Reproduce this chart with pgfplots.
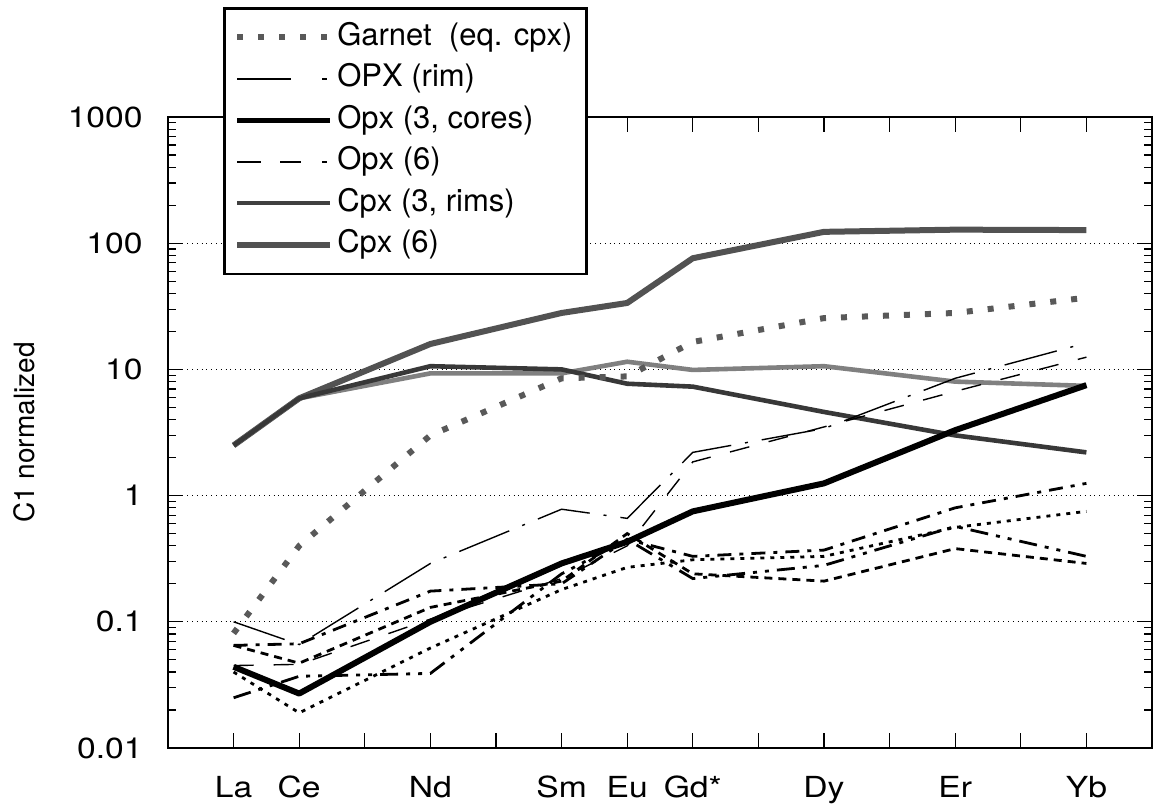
\documentclass[border=0pt]{standalone}
\usepackage{pgfplots}
\pgfplotsset{compat=1.18}
\usepackage{fontspec}
\setmainfont{TeX Gyre Heros}
\newfontfamily\tickfont{TeX Gyre Heros}[FakeStretch=1.16]

% x = atomic number (La=57 ... Yb=70)
\pgfplotstableread{
x y
57 2.5
58 5.9
60 15.9
62 28
63 33.6
64 76
66 123
68 128
70 127
}\cpxsix
\pgfplotstableread{
x y
57 2.5
58 5.9
60 9.3
62 9.3
63 11.5
64 9.9
66 10.6
68 8.0
70 7.4
}\cpxrims
\pgfplotstableread{
x y
57 2.5
58 5.9
60 10.6
62 10.0
63 7.7
64 7.3
66 4.6
68 3.0
70 2.2
}\cpxother
\pgfplotstableread{
x y
57 0.044
58 0.027
60 0.10
62 0.29
63 0.43
64 0.75
66 1.25
68 3.3
70 7.5
}\opxcores
\pgfplotstableread{
x y
57 0.081
58 0.40
60 3.0
62 8.5
63 8.8
64 16.5
66 25.5
68 28
70 37
}\garnet
\pgfplotstableread{
x y
57 0.10
58 0.066
60 0.29
62 0.78
63 0.66
64 2.2
66 3.4
68 8.5
70 16.2
}\opxrim
\pgfplotstableread{
x y
57 0.045
58 0.046
60 0.105
62 0.22
63 0.40
64 1.85
66 3.5
68 6.7
70 12.5
}\opxsix
\pgfplotstableread{
x y
57 0.065
58 0.067
60 0.175
62 0.20
63 0.45
64 0.33
66 0.37
68 0.80
70 1.25
}\lowP
\pgfplotstableread{
x y
57 0.040
58 0.019
60 0.062
62 0.18
63 0.27
64 0.31
66 0.33
68 0.56
70 0.75
}\lowQ
\pgfplotstableread{
x y
57 0.025
58 0.037
60 0.039
62 0.24
63 0.45
64 0.22
66 0.28
68 0.57
70 0.33
}\lowR
\pgfplotstableread{
x y
57 0.065
58 0.047
60 0.13
62 0.21
63 0.50
64 0.24
66 0.21
68 0.38
70 0.29
}\lowS

\begin{document}
\begin{tikzpicture}
\begin{axis}[
  scale only axis,
  width=492pt, height=315.5pt,
  xmin=56, xmax=71,
  ymode=log, ymin=0.01, ymax=1000,
  xtick={57,...,70},
  xticklabels={La,Ce,,Nd,,Sm,Eu,Gd*,,Dy,,Er,,Yb},
  ytick={0.01,0.1,1,10,100,1000},
  yticklabels={0.01,0.1,1,10,100,1000},
  tick align=inside,
  major tick length=7.5pt, minor tick length=4pt,
  ymajorgrids,
  major grid style={black, dotted, line width=0.6pt},
  axis line style={line width=0.8pt},
  every tick/.style={black, line width=0.6pt},
  tick label style={font=\tickfont\fontsize{14.5}{17}\selectfont},
  xticklabel style={anchor=base, yshift=-25pt},
  yticklabel style={anchor=east, inner sep=0pt, xshift=-12.5pt},
  legend style={at={(axis description cs:0.0559,1.1743)}, anchor=north west,
    draw=black, line width=1.3pt, fill=white,
    font=\fontsize{15.5}{18}\selectfont,
    row sep=0pt, inner xsep=5pt, inner ysep=4.2pt,
    nodes={text height=11pt, text depth=3pt, inner ysep=3.375pt, inner xsep=2pt}},
  legend cell align=left,
  legend image code/.code={\draw[#1] (0pt,0pt) -- (46.5pt,0pt);},
]
\coordinate (SW) at (rel axis cs:0,0);
\coordinate (NE) at (rel axis cs:1,1);
\coordinate (YL) at (rel axis cs:0,0.5);

% legend images
\addlegendimage{black!65, line width=3pt, dash pattern=on 3pt off 7.5pt}
\addlegendentry{Garnet~~(eq. cpx)}
\addlegendimage{black, line width=0.7pt, dash pattern=on 27pt off 15.5pt on 2.5pt off 10pt}
\addlegendentry{OPX (rim)}
\addlegendimage{black, line width=2.5pt}
\addlegendentry{Opx (3, cores)}
\addlegendimage{black, line width=0.7pt, dash pattern=on 12pt off 9.5pt on 10.5pt off 10.5pt on 2.5pt off 5pt}
\addlegendentry{Opx (6)}
\addlegendimage{black!75, line width=2pt}
\addlegendentry{Cpx (3, rims)}
\addlegendimage{black!68, line width=2.6pt}
\addlegendentry{Cpx (6)}

% data
\addplot[forget plot, black!68, line width=3pt, line join=round] table {\cpxsix};
\addplot[forget plot, black!50, line width=2.3pt, line join=round] table {\cpxrims};
\addplot[forget plot, black!78, line width=2.3pt, line join=round] table {\cpxother};
\addplot[forget plot, black, line width=3pt, line join=round] table {\opxcores};
\addplot[forget plot, black!65, line width=3pt, dash pattern=on 3pt off 7.5pt] table {\garnet};
\addplot[forget plot, black, line width=0.7pt, dash pattern=on 27pt off 7pt on 1.5pt off 7pt] table {\opxrim};
\addplot[forget plot, black, line width=0.7pt, dash pattern=on 10pt off 10pt] table {\opxsix};
\addplot[forget plot, black, line width=1.4pt, dash pattern=on 7pt off 4pt on 2pt off 4pt] table {\lowP};
\addplot[forget plot, black, line width=1.4pt, dash pattern=on 2pt off 3pt] table {\lowQ};
\addplot[forget plot, black, line width=1.4pt, dash pattern=on 9pt off 4pt on 2pt off 4pt on 2pt off 4pt] table {\lowR};
\addplot[forget plot, black, line width=1.4pt, dash pattern=on 4pt off 3pt] table {\lowS};
\end{axis}
\node[rotate=90, font=\fontsize{14}{17}\selectfont] at ([xshift=-72pt]YL) {C1 normalized};
\pgfresetboundingbox
\path ([shift={(-84pt,-31.5pt)}]SW) rectangle ([shift={(1.5pt,58.5pt)}]NE);
\end{tikzpicture}
\end{document}
